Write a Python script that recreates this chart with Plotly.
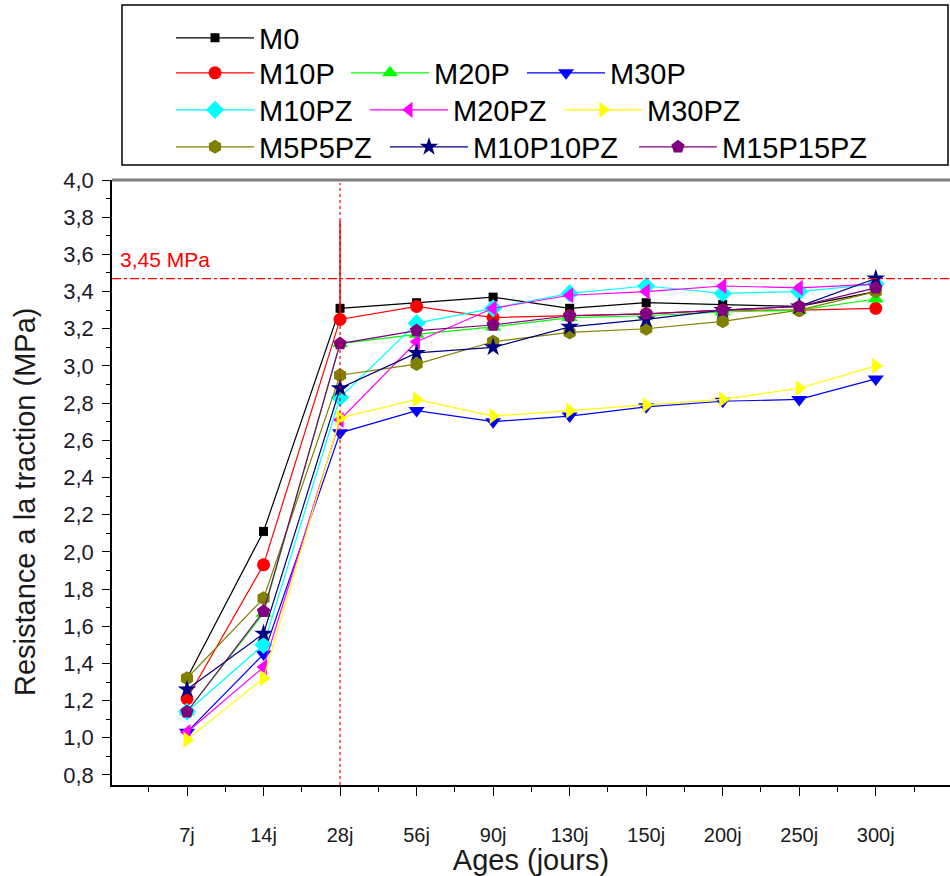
import plotly.graph_objects as go

ages = ["7j", "14j", "28j", "56j", "90j", "130j", "150j", "200j", "250j", "300j"]
x_idx = list(range(len(ages)))

series_names = ["M0", "M10P", "M20P", "M30P", "M10PZ", "M20PZ", "M30PZ",
                "M5P5PZ", "M10P10PZ", "M15P15PZ"]

M0 = [1.32, 2.11, 3.31, 3.34, 3.37, 3.31, 3.34, 3.33, 3.32, 3.40]
M10P = [1.21, 1.93, 3.25, 3.32, 3.26, 3.27, 3.28, 3.30, 3.30, 3.31]
M20P = [1.14, 1.67, 3.12, 3.17, 3.21, 3.26, 3.27, 3.29, 3.30, 3.36]
M30P = [1.03, 1.45, 2.64, 2.76, 2.70, 2.73, 2.78, 2.81, 2.82, 2.93]
M10PZ = [1.14, 1.50, 2.83, 3.23, 3.31, 3.39, 3.43, 3.39, 3.40, 3.44]
M20PZ = [1.03, 1.38, 2.71, 3.13, 3.31, 3.38, 3.40, 3.43, 3.42, 3.44]
M30PZ = [0.99, 1.32, 2.72, 2.82, 2.73, 2.76, 2.79, 2.82, 2.88, 3.00]
M5P5PZ = [1.32, 1.75, 2.95, 3.01, 3.13, 3.18, 3.20, 3.24, 3.30, 3.40]
M10P10PZ = [1.26, 1.56, 2.88, 3.07, 3.10, 3.21, 3.25, 3.30, 3.32, 3.47]
M15P15PZ = [1.14, 1.68, 3.12, 3.19, 3.22, 3.27, 3.28, 3.30, 3.32, 3.42]

# upper error bar on M10P at 28j
M10P_err_plus = [0, 0, 0.53, 0, 0, 0, 0, 0, 0, 0]

ref_value_label = "3,45 MPa"
ref_line_y = 3.47
ref_age_index = 2  # 28j

values = [M0, M10P, M20P, M30P, M10PZ, M20PZ, M30PZ, M5P5PZ, M10P10PZ, M15P15PZ]
colors = ["#000000", "#FF0000", "#00FF00", "#0000FF", "#00FFFF", "#FF00FF",
          "#FFFF00", "#808000", "#000080", "#800080"]
symbols = ["square", "circle", "triangle-up", "triangle-down", "diamond",
           "triangle-left", "triangle-right", "hexagon", "star", "pentagon"]
msizes = [9, 13, 14, 14, 14, 14, 14, 14, 14, 14]

# legend layout (row pixel y, pixel x of legend item start)
legend_pos = [(38, 171), (73, 171), (73, 346), (73, 522), (110, 171), (110, 365),
              (110, 559), (147, 171), (147, 385), (147, 634)]

FONT = "Liberation Sans, Arial, sans-serif"
W, H = 950, 876
L, R, T, B = 112, 0, 180, 91
pw, ph = W - L - R, H - T - B

fig = go.Figure()
layout_legends = {}
for i, (name, vals, c, s, ms) in enumerate(zip(series_names, values, colors, symbols, msizes)):
    lg = "legend" if i == 0 else f"legend{i+1}"
    tr = dict(
        x=x_idx, y=vals, name=name, mode="lines+markers",
        line=dict(color=c, width=1.2),
        marker=dict(color=c, symbol=s, size=ms, line=dict(width=0)),
        legend=lg, showlegend=True,
    )
    if name == "M10P":
        tr["error_y"] = dict(type="data", array=M10P_err_plus, arrayminus=[0] * len(ages),
                             symmetric=False, color="#FF0000", thickness=1.5, width=0)
    fig.add_trace(go.Scatter(**tr))
    ry, rx = legend_pos[i]
    layout_legends[lg] = dict(
        x=(rx - L) / pw, y=(H - B - ry) / ph, xref="paper", yref="paper",
        xanchor="left", yanchor="middle", bgcolor="rgba(0,0,0,0)",
        orientation="h",
        font=dict(family=FONT, size=29, color="#000000"),
        itemwidth=78, borderwidth=0, tracegroupgap=0,
    )

# reference lines
fig.add_shape(type="line", xref="paper", yref="y", x0=0, x1=1, y0=ref_line_y, y1=ref_line_y,
              line=dict(color="#FF0000", width=1.2, dash="dashdot"))
fig.add_shape(type="line", xref="x", yref="paper", x0=ref_age_index, x1=ref_age_index, y0=0, y1=0.995,
              line=dict(color="#FF0000", width=1.2, dash="dot"))
# top frame line (gray)
fig.add_shape(type="line", xref="paper", yref="paper", x0=0, x1=1, y0=1, y1=1,
              line=dict(color="#808080", width=3))
# legend box
fig.add_shape(type="rect", xref="paper", yref="paper",
              x0=(122 - L) / pw, x1=(948 - L) / pw,
              y0=(H - B - 165) / ph, y1=(H - B - 5) / ph,
              line=dict(color="#000000", width=1.5), fillcolor="rgba(0,0,0,0)")

fig.add_annotation(xref="paper", yref="y", x=(118 - L) / pw, y=ref_line_y, yshift=6,
                   xanchor="left", yanchor="bottom", showarrow=False, text=ref_value_label,
                   font=dict(family=FONT, size=21, color="#FF0000"))

# y axis title placed as rotated annotation
fig.add_annotation(xref="paper", yref="paper", x=(25 - L) / pw, y=(H - B - 502) / ph,
                   xanchor="center", yanchor="middle", showarrow=False, textangle=-90,
                   text="Resistance a la traction (MPa)",
                   font=dict(family=FONT, size=29, color="#1a1a1a"))

fig.update_layout(
    width=W, height=H, margin=dict(l=L, r=R, t=T, b=B, autoexpand=False),
    paper_bgcolor="white", plot_bgcolor="white",
    separators=", ",
    font=dict(family=FONT, color="#000000"),
    **layout_legends,
)
fig.update_xaxes(
    range=[-0.98, 9.97], tickmode="array", tickvals=x_idx, ticktext=ages, tickangle=0,
    showgrid=False, zeroline=False, showline=True, linecolor="#000000", linewidth=1.5,
    ticks="outside", ticklen=9, tickwidth=1.2, tickcolor="#000000",
    tickfont=dict(family=FONT, size=20, color="#1a1a1a"), ticklabelstandoff=22,
    minor=dict(tickmode="linear", tick0=-0.5, dtick=1, ticks="outside", ticklen=5, tickcolor="#000000", tickwidth=1.2),
    title=dict(text="Ages (jours)", font=dict(family=FONT, size=29, color="#1a1a1a"), standoff=1),
)
fig.update_yaxes(
    range=[0.746, 4.0], tickmode="linear", tick0=0.8, dtick=0.2, tickformat=".1f",
    showgrid=False, zeroline=False, showline=True, linecolor="#000000", linewidth=1.5,
    ticks="outside", ticklen=8, tickwidth=1.2, tickcolor="#000000",
    tickfont=dict(family=FONT, size=22, color="#1a1a2a"), ticklabelstandoff=4,
    minor=dict(tickmode="linear", tick0=0.7, dtick=0.2, ticks="outside", ticklen=4, tickcolor="#000000", tickwidth=1.2),
)

fig.write_html("out.html")
